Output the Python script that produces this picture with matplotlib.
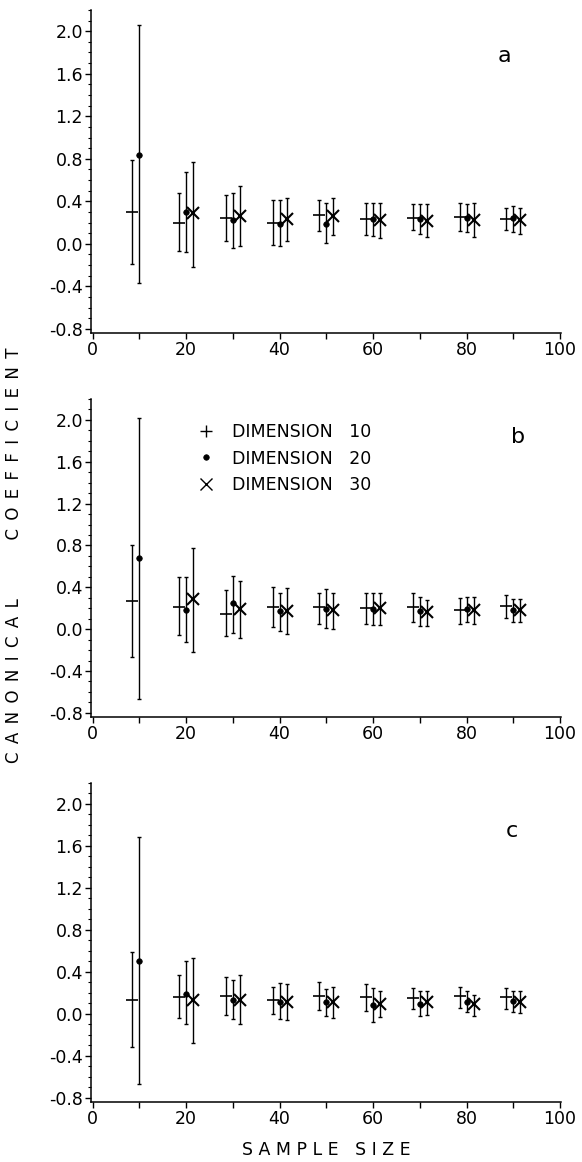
import matplotlib
matplotlib.use("Agg")
import matplotlib.pyplot as plt
import numpy as np
from matplotlib.ticker import MultipleLocator
from matplotlib.lines import Line2D

sample_sizes = [10, 20, 30, 40, 50, 60, 70, 80, 90]
offsets = {"10": -1.5, "20": 0.0, "30": 1.5}

# Panel a
a_d10_c = [0.30, 0.20, 0.24, 0.20, 0.27, 0.23, 0.24, 0.25, 0.23]
a_d10_u = [0.79, 0.48, 0.46, 0.41, 0.41, 0.38, 0.37, 0.38, 0.34]
a_d10_l = [-0.19, -0.07, 0.03, -0.01, 0.12, 0.08, 0.13, 0.12, 0.13]
a_d20_c = [0.84, 0.30, 0.22, 0.19, 0.19, 0.23, 0.23, 0.24, 0.24]
a_d20_u = [2.06, 0.68, 0.48, 0.41, 0.38, 0.38, 0.37, 0.37, 0.36]
a_d20_l = [-0.37, -0.08, -0.04, -0.02, 0.01, 0.07, 0.09, 0.11, 0.11]
a_d30_c = [0.29, 0.26, 0.23, 0.26, 0.22, 0.21, 0.22, 0.22]
a_d30_u = [0.77, 0.54, 0.43, 0.43, 0.38, 0.37, 0.38, 0.34]
a_d30_l = [-0.22, -0.02, 0.03, 0.08, 0.05, 0.06, 0.06, 0.09]

# Panel b
b_d10_c = [0.27, 0.21, 0.14, 0.21, 0.21, 0.20, 0.21, 0.18, 0.22]
b_d10_u = [0.80, 0.50, 0.37, 0.40, 0.35, 0.35, 0.35, 0.30, 0.33]
b_d10_l = [-0.27, -0.06, -0.07, 0.02, 0.05, 0.05, 0.07, 0.05, 0.11]
b_d20_c = [0.68, 0.18, 0.25, 0.17, 0.19, 0.19, 0.17, 0.19, 0.18]
b_d20_u = [2.02, 0.50, 0.51, 0.35, 0.38, 0.35, 0.31, 0.31, 0.29]
b_d20_l = [-0.67, -0.12, -0.04, -0.02, 0.01, 0.04, 0.03, 0.07, 0.07]
b_d30_c = [0.29, 0.19, 0.17, 0.18, 0.20, 0.16, 0.18, 0.18]
b_d30_u = [0.78, 0.46, 0.39, 0.35, 0.35, 0.28, 0.31, 0.29]
b_d30_l = [-0.22, -0.08, -0.05, 0.00, 0.04, 0.03, 0.05, 0.07]

# Panel c
c_d10_c = [0.13, 0.16, 0.17, 0.13, 0.17, 0.16, 0.15, 0.17, 0.16]
c_d10_u = [0.59, 0.37, 0.35, 0.26, 0.30, 0.28, 0.25, 0.26, 0.25]
c_d10_l = [-0.32, -0.04, -0.01, 0.00, 0.04, 0.03, 0.05, 0.06, 0.05]
c_d20_c = [0.50, 0.19, 0.13, 0.11, 0.11, 0.08, 0.09, 0.11, 0.12]
c_d20_u = [1.69, 0.50, 0.32, 0.29, 0.24, 0.25, 0.22, 0.22, 0.22]
c_d20_l = [-0.67, -0.10, -0.05, -0.05, -0.02, -0.08, -0.02, 0.02, 0.02]
c_d30_c = [0.13, 0.13, 0.11, 0.11, 0.09, 0.11, 0.09, 0.11]
c_d30_u = [0.53, 0.37, 0.28, 0.26, 0.22, 0.22, 0.18, 0.22]
c_d30_l = [-0.28, -0.10, -0.06, -0.04, -0.03, -0.01, -0.02, 0.01]

panels = [
    ("a", (a_d10_c, a_d10_u, a_d10_l), (a_d20_c, a_d20_u, a_d20_l), (a_d30_c, a_d30_u, a_d30_l)),
    ("b", (b_d10_c, b_d10_u, b_d10_l), (b_d20_c, b_d20_u, b_d20_l), (b_d30_c, b_d30_u, b_d30_l)),
    ("c", (c_d10_c, c_d10_u, c_d10_l), (c_d20_c, c_d20_u, c_d20_l), (c_d30_c, c_d30_u, c_d30_l)),
]
letter_pos = {"a": (88.2, 1.77), "b": (91.0, 1.84), "c": (89.7, 1.74)}

legend_labels = ["DIMENSION   10", "DIMENSION   20", "DIMENSION   30"]
y_ticks = [-0.8, -0.4, 0.0, 0.4, 0.8, 1.2, 1.6, 2.0]
x_ticks = [0, 20, 40, 60, 80, 100]

W, H = 582, 1162
fig = plt.figure(figsize=(W / 100, H / 100), dpi=100)
plt.rcParams['font.family'] = ['DejaVu Sans']
FS = 12.5

# pixel boxes: (top, bottom)
boxes = [(10, 333), (399, 717), (783, 1102)]
left_px, right_px = 91.3, 561.4

styles = [
    dict(marker="_", ms=8, mew=1.2),
    dict(marker="o", ms=4, mew=0.5),
    dict(marker="x", ms=8, mew=1.5),
]

for (name, d10, d20, d30), (top, bot) in zip(panels, boxes):
    ax = fig.add_axes([left_px / W, 1 - bot / H, (right_px - left_px) / W, (bot - top) / H])
    for key, data, st in zip(["10", "20", "30"], [d10, d20, d30], styles):
        c, u, l = (np.array(v) for v in data)
        ns = np.array(sample_sizes[len(sample_sizes) - len(c):])
        x = ns + offsets[key]
        ax.errorbar(x, c, yerr=[c - l, u - c], fmt="none", ecolor="black",
                    elinewidth=1.0, capsize=1.5, capthick=1.0)
        ax.plot(x, c, linestyle="none", color="black", markerfacecolor="black",
                marker=st["marker"], ms=st["ms"], mew=st["mew"])
    ax.set_xlim(-0.3, 100.3)
    ax.set_ylim(-0.84, 2.2)
    ax.set_xticks(x_ticks)
    ax.set_xticklabels([str(t) for t in x_ticks])
    ax.xaxis.set_minor_locator(MultipleLocator(10))
    ax.set_yticks(y_ticks)
    ax.set_yticklabels([f"{t:.1f}" for t in y_ticks])
    ax.yaxis.set_minor_locator(MultipleLocator(0.1))
    ax.tick_params(axis="both", which="major", direction="out", length=4, width=1.0,
                   labelsize=FS, pad=2)
    ax.tick_params(axis="x", which="minor", direction="out", length=4, width=1.0)
    ax.tick_params(axis="y", which="minor", direction="out", length=2, width=0.8)
    for s in ("top", "right"):
        ax.spines[s].set_visible(False)
    for s in ("left", "bottom"):
        ax.spines[s].set_linewidth(1.1)
    lx, ly = letter_pos[name]
    ax.text(lx, ly, name, fontsize=16, ha="center", va="center")
    if name == "b":
        handles = [
            Line2D([], [], linestyle="none", color="black", marker="+", ms=9, mew=1.0),
            Line2D([], [], linestyle="none", color="black", marker="o", ms=4, mew=0.5),
            Line2D([], [], linestyle="none", color="black", marker="x", ms=8, mew=1.0),
        ]
        ax.legend(handles, legend_labels, loc="upper left", bbox_to_anchor=(0.225, 0.925),
                  frameon=False, fontsize=FS, handletextpad=1.0, labelspacing=0.5,
                  handlelength=1.0, borderpad=0.0, borderaxespad=0.0)

ylab = "\u2002".join("CANONICAL") + "\u2002" * 7 + "\u2002".join("COEFFICIENT")
fig.text(14 / W, 1 - 555 / H, ylab, rotation=90, ha="center", va="center", fontsize=12)
fig.text(326 / W, 1 - 1150 / H, "S A M P L E   S I Z E", ha="center", va="center", fontsize=FS)

fig.savefig("out.png", dpi=100)
